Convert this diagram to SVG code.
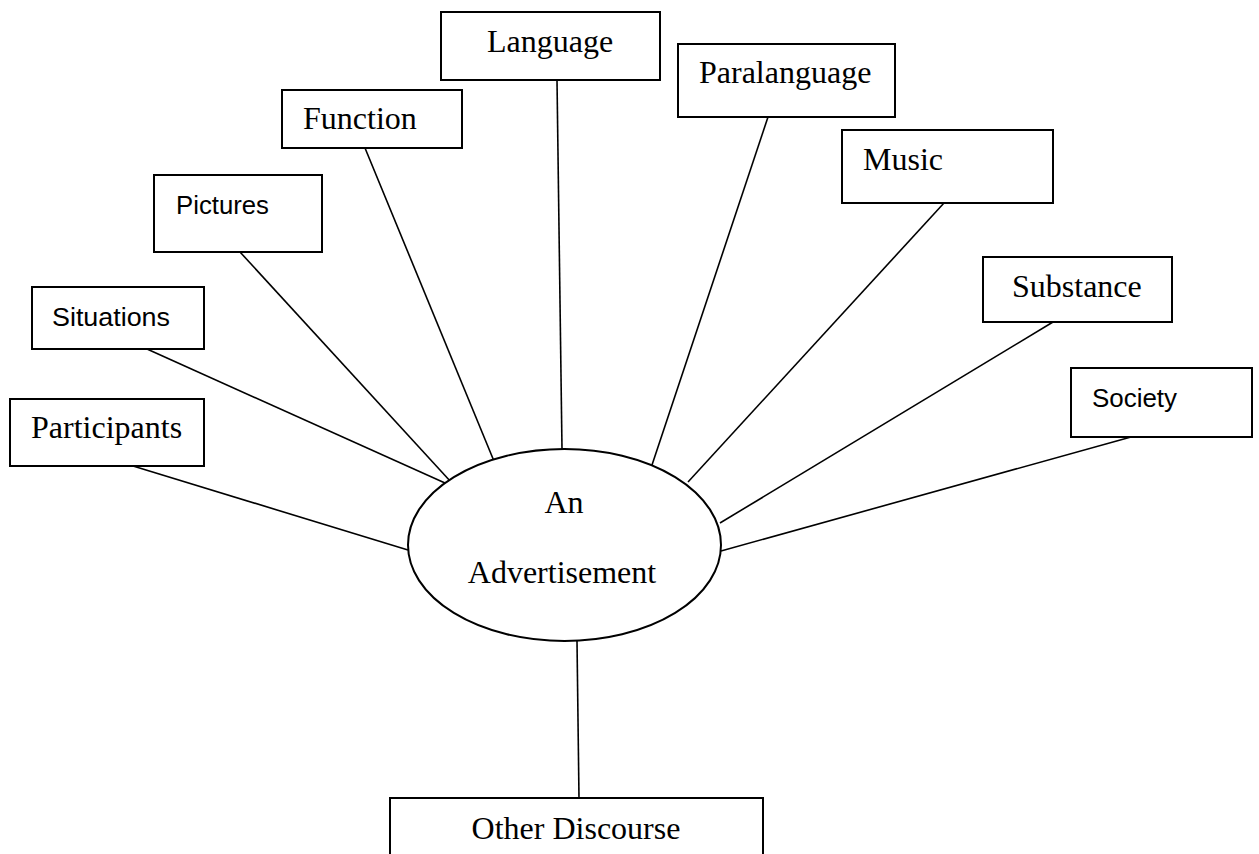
<svg xmlns="http://www.w3.org/2000/svg" width="1259" height="854" viewBox="0 0 1259 854">
<style>
.box{fill:#fff;stroke:#000;stroke-width:2}
.ell{fill:#fff;stroke:#000;stroke-width:2}
.conn line{stroke:#000;stroke-width:1.6}
.serif{font-family:"Liberation Serif","Times New Roman",serif;font-size:32px;fill:#000}
.sans{font-family:"Liberation Sans",Arial,sans-serif;font-size:25px;fill:#000}
</style>
<rect width="1259" height="854" fill="#fff"/>
<g id="connectors" class="conn">
<line x1="133" y1="466" x2="408" y2="550"/>
<line x1="147" y1="349" x2="445" y2="483"/>
<line x1="240" y1="252" x2="451" y2="482"/>
<line x1="365" y1="148" x2="496" y2="466"/>
<line x1="557" y1="80" x2="562" y2="449"/>
<line x1="768" y1="117" x2="652" y2="465"/>
<line x1="944" y1="203" x2="688" y2="482"/>
<line x1="1053" y1="322" x2="720" y2="523"/>
<line x1="1131" y1="437" x2="721" y2="551"/>
<line x1="577" y1="641" x2="579" y2="798"/>
</g>
<g id="participants"><rect class="box" x="10" y="399" width="194" height="67"/><text class="serif" x="31" y="438">Participants</text></g>
<g id="situations"><rect class="box" x="32" y="287" width="172" height="62"/><text class="sans" x="52" y="326" textLength="118" lengthAdjust="spacingAndGlyphs">Situations</text></g>
<g id="pictures"><rect class="box" x="154" y="175" width="168" height="77"/><text class="sans" x="176" y="214" textLength="93" lengthAdjust="spacingAndGlyphs">Pictures</text></g>
<g id="function"><rect class="box" x="282" y="90" width="180" height="58"/><text class="serif" x="303" y="129">Function</text></g>
<g id="language"><rect class="box" x="441" y="12" width="219" height="68"/><text class="serif" x="487" y="52">Language</text></g>
<g id="paralanguage"><rect class="box" x="678" y="44" width="217" height="73"/><text class="serif" x="699" y="83">Paralanguage</text></g>
<g id="music"><rect class="box" x="842" y="130" width="211" height="73"/><text class="serif" x="863" y="170">Music</text></g>
<g id="substance"><rect class="box" x="983" y="257" width="189" height="65"/><text class="serif" x="1012" y="297">Substance</text></g>
<g id="society"><rect class="box" x="1071" y="368" width="181" height="69"/><text class="sans" x="1092" y="407" textLength="85" lengthAdjust="spacingAndGlyphs">Society</text></g>
<g id="advertisement"><ellipse class="ell" cx="564.5" cy="545" rx="156.5" ry="96"/><text class="serif" x="564" y="513" text-anchor="middle">An</text><text class="serif" x="562" y="583" text-anchor="middle">Advertisement</text></g>
<g id="other-discourse"><rect class="box" x="390" y="798" width="373" height="80"/><text class="serif" x="576" y="839" text-anchor="middle">Other Discourse</text></g>
</svg>
